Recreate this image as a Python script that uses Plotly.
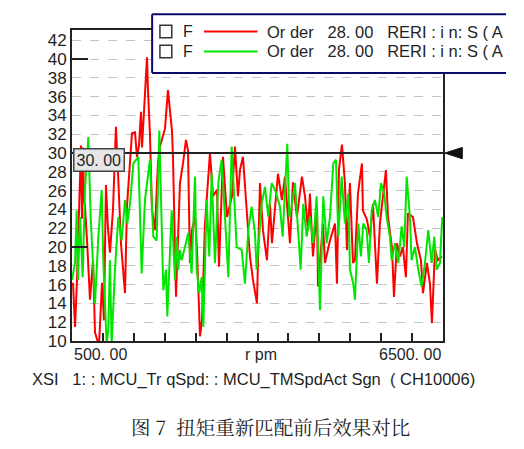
import plotly.graph_objects as go

# red trace: before re-matching (rpm, order 28 level)
red_rpm = [516, 549, 581, 613, 629, 645, 662, 678, 694, 710, 743, 791, 840, 872, 937,
           985, 1017, 1049, 1082, 1114, 1163, 1211, 1244, 1292, 1357, 1389, 1422, 1470,
           1519, 1551, 1583, 1616, 1632, 1713, 1729, 1761, 1793, 1842, 1890, 1923, 2004,
           2052, 2117, 2133, 2182, 2246, 2295, 2343, 2376, 2408, 2440, 2489, 2521, 2570,
           2602, 2651, 2731, 2780, 2845, 2877, 2942, 3006, 3087, 3136, 3184, 3217, 3265,
           3330, 3378, 3427, 3491, 3540, 3588, 3653, 3702, 3734, 3831, 3895, 3944, 4025,
           4073, 4138, 4219, 4268, 4316, 4348, 4397, 4462, 4478, 4559, 4591, 4672, 4753,
           4785, 4817, 4866, 4914, 4947, 4995, 5044, 5076, 5125, 5189, 5205, 5270, 5319,
           5367, 5432, 5480, 5529, 5577, 5610, 5674, 5707, 5755, 5804, 5852, 5900, 5933,
           6014, 6079, 6143, 6176, 6240, 6289, 6321, 6370, 6418, 6483]
red_val = [16.2, 11.5, 16.5, 24.0, 27.0, 30.8, 23.0, 30.6, 25.0, 24.3, 20.7, 14.4, 18.6, 10.9, 9.5,
           16.2, 12.2, 26.6, 22.0, 19.4, 24.0, 32.8, 27.9, 20.4, 15.1, 24.3, 27.5, 32.1,
           32.2, 29.6, 30.8, 34.4, 30.6, 40.2, 36.7, 32.0, 24.0, 21.8, 29.0, 30.7, 32.6,
           36.7, 32.4, 29.6, 14.7, 26.8, 28.9, 31.4, 30.3, 18.3, 21.8, 23.2, 19.7, 10.5,
           12.2, 22.5, 30.0, 25.4, 26.1, 17.9, 29.6, 23.2, 25.4, 30.7, 25.4, 28.2, 29.6,
           23.2, 19.0, 16.5, 14.0, 26.8, 21.8, 18.6, 24.6, 20.4, 27.8, 25.0, 27.5, 20.4,
           26.9, 23.2, 27.5, 25.4, 21.8, 25.7, 19.0, 24.3, 15.8, 22.5, 18.3, 20.7, 22.5,
           16.1, 28.2, 30.9, 26.8, 19.7, 26.8, 18.3, 18.6, 25.7, 28.9, 23.9, 22.9, 21.1,
           24.6, 16.1, 22.5, 25.4, 28.2, 23.2, 20.0, 14.7, 20.4, 19.0, 20.0, 16.8, 23.6,
           23.2, 20.4, 18.6, 15.1, 18.3, 16.1, 11.9, 19.7, 18.6, 19.0]

# green trace: after re-matching
green_rpm = [500, 549, 576, 597, 629, 673, 710, 764, 802, 845, 872, 926, 980, 1006, 1060,
             1087, 1114, 1141, 1195, 1249, 1303, 1357, 1395, 1438, 1492, 1572, 1627, 1680,
             1761, 1815, 1869, 1912, 1977, 2020, 2041, 2112, 2166, 2193, 2219, 2246, 2273,
             2327, 2381, 2435, 2489, 2516, 2559, 2597, 2624, 2678, 2720, 2759, 2812, 2866,
             2920, 2974, 3028, 3082, 3109, 3163, 3244, 3297, 3351, 3405, 3459, 3486, 3567,
             3621, 3675, 3729, 3783, 3863, 3907, 3944, 3982, 4014, 4052, 4106, 4159, 4198,
             4240, 4295, 4348, 4402, 4456, 4510, 4564, 4618, 4672, 4726, 4769, 4807, 4861,
             4914, 4968, 4995, 5049, 5076, 5130, 5173, 5211, 5265, 5302, 5346, 5399, 5453,
             5496, 5550, 5588, 5642, 5669, 5723, 5777, 5831, 5874, 5912, 5965, 5992, 6046,
             6100, 6154, 6208, 6262, 6316, 6359, 6397, 6451, 6488]
green_val = [16.5, 18.3, 23.9, 16.5, 23.2, 16.8, 26.1, 31.7, 23.2, 16.8, 14.0, 21.1, 26.1, 18.6, 9.6,
             11.2, 18.6, 9.6, 17.6, 23.2, 20.7, 25.0, 22.5, 24.6, 28.9, 29.6, 17.2, 25.0,
             29.3, 21.1, 20.7, 32.4, 15.4, 17.6, 12.6, 23.9, 16.5, 21.1, 17.6, 19.7, 18.6,
             20.0, 21.5, 17.2, 27.5, 17.6, 15.1, 16.8, 11.5, 25.0, 19.0, 27.8, 18.3, 26.8,
             29.3, 23.2, 16.8, 30.7, 27.5, 20.0, 19.7, 16.1, 21.8, 24.3, 21.5, 17.6, 24.6,
             26.4, 23.2, 26.8, 26.1, 24.3, 21.1, 26.4, 31.0, 23.2, 24.3, 26.8, 21.1, 17.6,
             24.6, 21.1, 23.2, 20.4, 25.4, 13.3, 25.4, 20.4, 23.2, 28.9, 29.3, 21.1, 27.5,
             22.5, 25.7, 17.6, 16.1, 14.4, 22.5, 19.0, 22.5, 21.8, 18.3, 23.9, 25.0, 23.2,
             26.8, 25.7, 23.2, 21.1, 18.6, 20.4, 18.3, 22.2, 20.0, 27.5, 23.2, 18.6, 20.0,
             17.6, 15.8, 18.3, 21.8, 18.3, 21.1, 17.6, 18.3, 23.2]

y_ticks = list(range(10, 44, 2))
cursor_level = 30
font = "Liberation Sans, Arial, sans-serif"
ink = "#1f1f1f"
navy = "#0a0a6e"

fig = go.Figure()
fig.add_trace(go.Scatter(x=red_rpm, y=red_val, mode="lines",
                         line=dict(color="#ff0000", width=2), showlegend=False))
fig.add_trace(go.Scatter(x=green_rpm, y=green_val, mode="lines",
                         line=dict(color="#00e600", width=2), showlegend=False))

# cursor line at 30 with its marker and value box
fig.add_shape(type="line", xref="x domain", yref="y", x0=0, x1=1.005,
              y0=cursor_level, y1=cursor_level, line=dict(color="#222", width=2))
fig.add_shape(type="path", xref="x domain", yref="y",
              path="M 1.005 30 L 1.052 30.6 L 1.052 29.4 Z",
              fillcolor="#111", line=dict(color="#111", width=1))
fig.add_annotation(xref="x domain", yref="y", x=0.003, y=cursor_level, yshift=-7,
                   xanchor="left", yanchor="middle", text="30. 00", showarrow=False,
                   font=dict(family=font, size=16, color=ink),
                   bgcolor="#e6e6e6", bordercolor="#444", borderwidth=1.5, borderpad=2)

# legend box drawn by hand (its right side is cut off in the original)
lx0, lx1, ly0, ly1 = 0.216, 1.17, 0.862, 1.051
fig.add_shape(type="rect", xref="paper", yref="paper", x0=lx0, x1=lx1, y0=ly0, y1=ly1,
              fillcolor="white", line=dict(width=0))
for seg in [(lx0, ly0, lx1, ly0), (lx0, ly1, lx1, ly1), (lx0, ly0, lx0, ly1)]:
    fig.add_shape(type="line", xref="paper", yref="paper", x0=seg[0], y0=seg[1],
                  x1=seg[2], y1=seg[3], line=dict(color=navy, width=2))
rows = [(0.995, "#ff0000"), (0.931, "#00e600")]
for yrow, col in rows:
    fig.add_shape(type="rect", xref="paper", yref="paper", x0=0.237, x1=0.269,
                  y0=yrow - 0.02, y1=yrow + 0.02, line=dict(color="#333", width=1.5))
    fig.add_annotation(xref="paper", yref="paper", x=0.295, y=yrow, xanchor="left",
                       yanchor="middle", text="F", showarrow=False,
                       font=dict(family=font, size=16, color=ink))
    fig.add_shape(type="line", xref="paper", yref="paper", x0=0.356, x1=0.5,
                  y0=yrow, y1=yrow, line=dict(color=col, width=2))
    fig.add_annotation(xref="paper", yref="paper", x=0.52, y=yrow, xanchor="left",
                       yanchor="middle", text="Or der   28. 00   RERI : i n: S ( A",
                       showarrow=False, font=dict(family=font, size=16.5, color=ink))

# x axis texts
fig.add_annotation(xref="paper", yref="paper", x=0, y=-0.01, xanchor="left", yanchor="top",
                   text="500. 00", showarrow=False, font=dict(family=font, size=16, color=ink))
fig.add_annotation(xref="paper", yref="paper", x=0.51, y=-0.01, xanchor="center", yanchor="top",
                   text="r pm", showarrow=False, font=dict(family=font, size=16, color=ink))
fig.add_annotation(xref="paper", yref="paper", x=1, y=-0.01, xanchor="right", yanchor="top",
                   text="6500. 00", showarrow=False, font=dict(family=font, size=16, color=ink))
fig.add_annotation(xref="paper", yref="paper", x=0.49, y=-0.087, xanchor="center", yanchor="top",
                   text="XSI   1: : MCU_Tr qSpd: : MCU_TMSpdAct Sgn  ( CH10006)", showarrow=False,
                   font=dict(family=font, size=16.5, color=ink))
fig.add_annotation(xref="paper", yref="paper", x=0.535, y=-0.225, xanchor="center", yanchor="top",
                   text="图 7  扭矩重新匹配前后效果对比", showarrow=False,
                   font=dict(family="Noto Serif CJK SC, Noto Sans CJK SC", size=19.5, color="#222"))

fig.update_xaxes(range=[500, 6500], showticklabels=False, showgrid=False, zeroline=False,
                 tickmode="array", tickvals=list(range(1000, 6500, 500)),
                 ticks="inside", ticklen=8, tickwidth=2, tickcolor="#222",
                 showline=True, linecolor="#222", linewidth=2, mirror=True)
fig.update_yaxes(range=[10, 43.1], tickmode="array", tickvals=y_ticks,
                 ticks="", showgrid=True, gridcolor="#c4c4c4", griddash="dash", gridwidth=1,
                 zeroline=False, showline=True, linecolor="#222", linewidth=2, mirror=True,
                 tickfont=dict(family=font, size=17, color=ink),
                 minor=dict(tickmode="array", tickvals=[20, 40], ticks="inside",
                            ticklen=16, tickwidth=2, tickcolor="#222", showgrid=False))

fig.update_layout(width=524, height=449, margin=dict(l=72, r=81, t=30, b=108),
                  plot_bgcolor="white", paper_bgcolor="white")
fig.write_html("out.html", config={"displayModeBar": False},
               post_script="document.body.style.margin='0';")
